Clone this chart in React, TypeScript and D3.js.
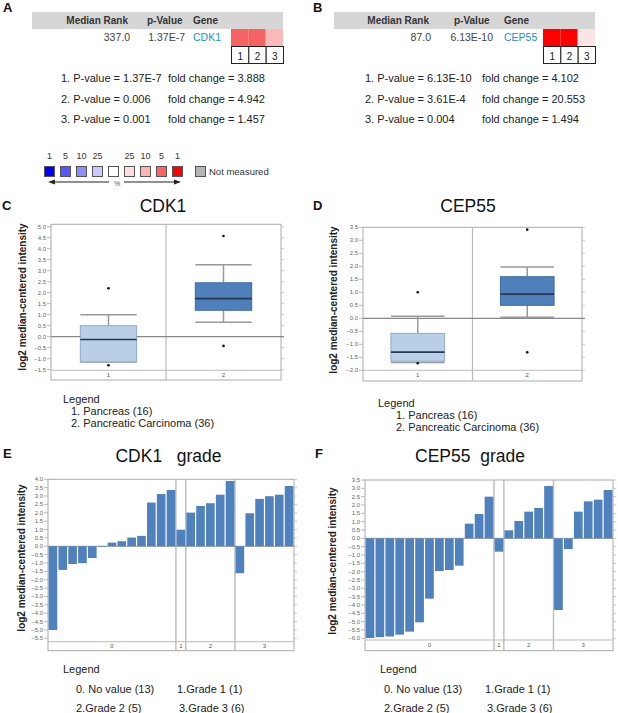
import React from "react";
import * as d3 from "d3";

const FONT = "'Liberation Sans', Arial, Helvetica, sans-serif";

// ---------- Panels A / B (heat map summary) ----------
const heatHeader = ["Median Rank", "p-Value", "Gene"];
const datasetIds = ["1", "2", "3"];
const cdk1Rank = "337.0";
const cdk1PValue = "1.37E-7";
const cep55Rank = "87.0";
const cep55PValue = "6.13E-10";
const cdk1CellColors = ["#f56262", "#f56262", "#fcb9b9"];
const cep55CellColors = ["#ff0000", "#ff0000", "#fde4e4"];
const cdk1Pvals = ["1.37E-7", "0.006", "0.001"];
const cdk1Folds = ["3.888", "4.942", "1.457"];
const cep55Pvals = ["6.13E-10", "3.61E-4", "0.004"];
const cep55Folds = ["4.102", "20.553", "1.494"];

// ---------- colour key ----------
const keyLabels = ["1", "5", "10", "25", "", "25", "10", "5", "1"];
const keyColors = ["#0000ff", "#5656ff", "#8c8cff", "#cacaff", "#ffffff", "#ffdede", "#ffb3b3", "#ff6262", "#ff0000"];

// ---------- Panels C / D (box plots) ----------
const boxCategories = ["1", "2"];
const boxLegend = ["Legend", "1. Pancreas (16)", "2. Pancreatic Carcinoma (36)"];

const cdk1BoxMin = [-1.15, 0.65];
const cdk1BoxQ1 = [-1.15, 1.2];
const cdk1BoxMedian = [-0.13, 1.73];
const cdk1BoxQ3 = [0.5, 2.45];
const cdk1BoxMax = [1.0, 3.27];
const cdk1OutlierGroup = [0, 0, 1, 1];
const cdk1OutlierValue = [2.2, -1.3, 4.58, -0.42];
const cdk1BoxTicks = [-1.5, -1.0, -0.5, 0.0, 0.5, 1.0, 1.5, 2.0, 2.5, 3.0, 3.5, 4.0, 4.5, 5.0];

const cep55BoxMin = [-1.7, 0.04];
const cep55BoxQ1 = [-1.65, 0.5];
const cep55BoxMedian = [-1.3, 0.93];
const cep55BoxQ3 = [-0.58, 1.6];
const cep55BoxMax = [0.08, 1.97];
const cep55OutlierGroup = [0, 0, 1, 1];
const cep55OutlierValue = [1.0, -1.73, 3.41, -1.31];
const cep55BoxTicks = [-2.0, -1.5, -1.0, -0.5, 0.0, 0.5, 1.0, 1.5, 2.0, 2.5, 3.0, 3.5];

// ---------- Panels E / F (grade bars) ----------
const gradeCategories = ["0", "1", "2", "3"];
const gradeLegendLeft = ["0. No value (13)", "2.Grade 2 (5)"];
const gradeLegendRight = ["1.Grade 1 (1)", "3.Grade 3 (6)"];

const cdk1Grade0 = [-5.0, -1.41, -1.06, -1.01, -0.7, -0.04, 0.22, 0.3, 0.52, 0.62, 2.61, 3.12, 3.36];
const cdk1Grade1 = [0.99];
const cdk1Grade2 = [2.01, 2.41, 2.57, 3.08, 3.9];
const cdk1Grade3 = [-1.61, 1.97, 2.83, 2.99, 3.08, 3.6];
const cdk1GradeTicks = [-5.5, -5.0, -4.5, -4.0, -3.5, -3.0, -2.5, -2.0, -1.5, -1.0, -0.5, 0.0, 0.5, 1.0, 1.5, 2.0, 2.5, 3.0, 3.5, 4.0];

const cep55Grade0 = [-5.98, -5.93, -5.89, -5.78, -5.6, -5.04, -3.62, -1.96, -1.9, -1.64, 0.88, 1.46, 2.5];
const cep55Grade1 = [-0.8];
const cep55Grade2 = [0.48, 1.04, 1.6, 1.82, 3.14];
const cep55Grade3 = [-4.3, -0.64, 1.6, 2.22, 2.32, 2.9];
const cep55GradeTicks = [-6.0, -5.5, -5.0, -4.5, -4.0, -3.5, -3.0, -2.5, -2.0, -1.5, -1.0, -0.5, 0.0, 0.5, 1.0, 1.5, 2.0, 2.5, 3.0, 3.5];

const fmt = d3.format(".1f");
const YLABEL = "log2 median-centered intensity";

function Letter({ x, y, t }: any) {
  return (
    <text x={x} y={y} fontSize={13} fontWeight="bold" fill="#111">
      {t}
    </text>
  );
}

function HeatPanel({ L, rank, pval, gene, cellColors, pvals, folds }: any) {
  const cellX = d3.scaleBand().domain(datasetIds).range([L.cellX, L.cellX + 52]);
  const lineY = d3.scalePoint().domain(["0", "1", "2"]).range([82, 123]);
  return (
    <g>
      <rect x={L.hx0} y={12} width={L.hx1 - L.hx0} height={17} fill="#d6d6d6" />
      <text x={L.mrEnd} y={24} fontSize={10} fontWeight="bold" fill="#333" textAnchor="end">{heatHeader[0]}</text>
      <text x={L.pvStart} y={24} fontSize={10} fontWeight="bold" fill="#333">{heatHeader[1]}</text>
      <text x={L.geneStart} y={24} fontSize={10} fontWeight="bold" fill="#333">{heatHeader[2]}</text>
      <text x={L.rankEnd} y={41} fontSize={10.5} fill="#444" textAnchor="end">{rank}</text>
      <text x={L.pvalEnd} y={41} fontSize={10.5} fill="#444" textAnchor="end">{pval}</text>
      <text x={L.geneStart} y={41} fontSize={10.5} fill="#1a8ed8">{gene}</text>
      {datasetIds.map((d, i) => (
        <g key={d}>
          <rect x={cellX(d)} y={29} width={cellX.bandwidth()} height={17} fill={cellColors[i]} />
          <rect x={cellX(d)! + 0.5} y={46.5} width={cellX.bandwidth()} height={17} fill="#fff" stroke="#222" strokeWidth={1} />
          <text x={cellX(d)! + cellX.bandwidth() / 2 + 0.5} y={59.5} fontSize={10} fill="#222" textAnchor="middle">{d}</text>
        </g>
      ))}
      {pvals.map((p: string, i: number) => (
        <g key={i} fontSize={11} fill="#222">
          <text x={L.lineX} y={lineY(String(i))}>{`${i + 1}. P-value = ${p}`}</text>
          <text x={L.foldX} y={lineY(String(i))}>{`fold change = ${folds[i]}`}</text>
        </g>
      ))}
    </g>
  );
}

function ColorKey() {
  const kx = d3.scaleLinear().domain([0, 8]).range([44, 172]);
  return (
    <g>
      {keyColors.map((c, i) => (
        <g key={i}>
          <rect x={kx(i) + 0.5} y={166.5} width={10} height={10} fill={c} stroke="#555" strokeWidth={1} />
          <text x={kx(i) + 5.5} y={159} fontSize={9} fill="#333" textAnchor="middle">{keyLabels[i]}</text>
        </g>
      ))}
      <rect x={195.5} y={166.5} width={10} height={10} fill="#b5b5b5" stroke="#555" strokeWidth={1} />
      <text x={209} y={175} fontSize={9.5} fill="#333">Not measured</text>
      <line x1={53} x2={109} y1={182} y2={182} stroke="#222" strokeWidth={1} />
      <path d="M48,182 L55,179.5 L55,184.5 Z" fill="#222" />
      <text x={114} y={186} fontSize={7} fill="#555">%</text>
      <line x1={124} x2={176} y1={182} y2={182} stroke="#222" strokeWidth={1} />
      <path d="M181,182 L174,179.5 L174,184.5 Z" fill="#222" />
    </g>
  );
}

function YLabel({ x, cy }: any) {
  return (
    <text transform={`translate(${x},${cy}) rotate(-90)`} fontSize={10} fontWeight="bold" fill="#222" textAnchor="middle">
      {YLABEL}
    </text>
  );
}

function BoxPanel(p: any) {
  const y = d3.scaleLinear().domain(p.domain).range([p.ySep, p.yTop]);
  const x = d3.scaleBand().domain(boxCategories).range([p.x0, p.x1]);
  const bw = x.bandwidth() * 0.49;
  const mid = p.x0 + (p.x1 - p.x0) / 2;
  const fills = ["#b9cfe7", "#4f80bc"];
  const strokes = ["#8eabcc", "#3c6aa3"];
  return (
    <g>
      <Letter x={p.letterX} y={210} t={p.letter} />
      <text x={p.titleX} y={212} fontSize={17.5} fill="#111" textAnchor="middle">{p.title}</text>
      <rect x={p.x0} y={p.yTop} width={p.x1 - p.x0} height={p.yBottom - p.yTop} fill="#fff" stroke="#aaa" strokeWidth={1} />
      <line x1={mid} x2={mid} y1={p.yTop} y2={p.yBottom} stroke="#bbb" strokeWidth={1.2} />
      <line x1={p.x0} x2={p.x1} y1={p.ySep} y2={p.ySep} stroke="#bbb" strokeWidth={1} />
      {p.ticks.map((t: number) => (
        <g key={t}>
          <line x1={p.x0 - 4} x2={p.x0} y1={y(t)} y2={y(t)} stroke="#aaa" strokeWidth={0.8} />
          <line x1={p.x1} x2={p.x1 + 3} y1={y(t)} y2={y(t)} stroke="#bbb" strokeWidth={0.8} />
          <text x={p.x0 - 5} y={y(t) + 2} fontSize={6} fill="#666" textAnchor="end">{fmt(t)}</text>
        </g>
      ))}
      <line x1={p.x0} x2={p.x1 + 3} y1={y(0)} y2={y(0)} stroke="#888" strokeWidth={1.2} />
      {boxCategories.map((c, i) => {
        const cx = x(c)! + x.bandwidth() / 2;
        return (
          <g key={c}>
            <line x1={cx} x2={cx} y1={y(p.max[i])} y2={y(p.q3[i])} stroke="#999" strokeWidth={1.5} />
            <line x1={cx} x2={cx} y1={y(p.q1[i])} y2={y(p.min[i])} stroke="#999" strokeWidth={1.5} />
            <line x1={cx - bw / 2} x2={cx + bw / 2} y1={y(p.max[i])} y2={y(p.max[i])} stroke="#999" strokeWidth={1.5} />
            <line x1={cx - bw / 2} x2={cx + bw / 2} y1={y(p.min[i])} y2={y(p.min[i])} stroke="#999" strokeWidth={1.5} />
            <rect x={cx - bw / 2} y={y(p.q3[i])} width={bw} height={y(p.q1[i]) - y(p.q3[i])} fill={fills[i]} stroke={strokes[i]} strokeWidth={1} />
            <line x1={cx - bw / 2} x2={cx + bw / 2} y1={y(p.median[i])} y2={y(p.median[i])} stroke="#26384d" strokeWidth={1.6} />
            <text x={cx} y={y.range()[0] + 7} fontSize={6} fill="#555" textAnchor="middle">{c}</text>
          </g>
        );
      })}
      {p.outVal.map((v: number, k: number) => (
        <circle key={k} cx={x(boxCategories[p.outGrp[k]])! + x.bandwidth() / 2} cy={y(v)} r={1.3} fill="#111" />
      ))}
      <YLabel x={p.ylabX} cy={p.ylabY} />
      {boxLegend.map((t, i) => (
        <text key={i} x={i === 0 ? p.legX : p.legX + p.legIndent} y={p.legY + i * 12} fontSize={11} fill="#222">{t}</text>
      ))}
    </g>
  );
}

function BarPanel(p: any) {
  const values: number[] = p.groups.flat();
  const idx = values.map((_: number, i: number) => String(i));
  const x = d3.scaleBand().domain(idx).range([p.x0, p.x1]);
  const y = d3.scaleLinear().domain(p.domain).range([p.ySep, p.yTop]);
  let start = 0;
  const info = p.groups.map((g: number[], gi: number) => {
    const s = start;
    start += g.length;
    return { s, e: start, label: gradeCategories[gi] };
  });
  const xAt = (i: number) => (i >= values.length ? p.x1 : x(String(i))!);
  return (
    <g>
      <Letter x={p.letterX} y={458} t={p.letter} />
      <text x={p.titleX} y={462} fontSize={17.5} fill="#111" textAnchor="middle" style={{ whiteSpace: "pre" }}>{p.title}</text>
      <rect x={p.x0} y={p.yTop} width={p.x1 - p.x0} height={p.yBottom - p.yTop} fill="#fff" stroke="#aaa" strokeWidth={1} />
      <line x1={p.x0} x2={p.x1} y1={p.ySep} y2={p.ySep} stroke="#bbb" strokeWidth={1} />
      {p.ticks.map((t: number) => (
        <g key={t}>
          <line x1={p.x0 - 4} x2={p.x0} y1={y(t)} y2={y(t)} stroke="#aaa" strokeWidth={0.8} />
          <line x1={p.x1} x2={p.x1 + 3} y1={y(t)} y2={y(t)} stroke="#bbb" strokeWidth={0.8} />
          <text x={p.x0 - 5} y={y(t) + 2} fontSize={6} fill="#666" textAnchor="end">{fmt(t)}</text>
        </g>
      ))}
      {info.slice(0, -1).map((g: any) => (
        <line key={g.label} x1={xAt(g.e)} x2={xAt(g.e)} y1={p.yTop} y2={p.yBottom} stroke="#bbb" strokeWidth={1.4} />
      ))}
      <line x1={p.x0} x2={p.x1} y1={y(0)} y2={y(0)} stroke="#999" strokeWidth={1} />
      {values.map((v, i) => (
        <rect
          key={i}
          x={x(String(i))! + 0.6}
          y={Math.min(y(v), y(0))}
          width={x.bandwidth() - 1.2}
          height={Math.abs(y(v) - y(0))}
          fill="#4f81bd"
        />
      ))}
      {info.map((g: any) => (
        <text key={g.label} x={(xAt(g.s) + xAt(g.e)) / 2} y={p.ySep + 6.5} fontSize={6} fill="#555" textAnchor="middle">{g.label}</text>
      ))}
      <YLabel x={p.ylabX} cy={p.ylabY} />
      <text x={p.legX} y={672.5} fontSize={11} fill="#222">Legend</text>
      {gradeLegendLeft.map((t, i) => (
        <text key={t} x={p.legX1} y={692.5 + i * 19} fontSize={11} fill="#222">{t}</text>
      ))}
      {gradeLegendRight.map((t, i) => (
        <text key={t} x={p.legX2 + i * 2} y={692.5 + i * 19} fontSize={11} fill="#222">{t}</text>
      ))}
    </g>
  );
}

export default function App() {
  return (
    <svg
      width={618}
      height={713}
      viewBox="0 0 618 713"
      fontFamily={FONT}
      style={{ position: "absolute", left: 0, top: 0, background: "#fff" }}
    >
      <rect width={618} height={713} fill="#fff" />
      <Letter x={3} y={12} t="A" />
      <Letter x={313} y={12} t="B" />
      <HeatPanel
        L={{ hx0: 32, hx1: 283, mrEnd: 128, pvStart: 147, geneStart: 193, rankEnd: 130, pvalEnd: 185, cellX: 231, lineX: 61, foldX: 168 }}
        rank={cdk1Rank}
        pval={cdk1PValue}
        gene="CDK1"
        cellColors={cdk1CellColors}
        pvals={cdk1Pvals}
        folds={cdk1Folds}
      />
      <HeatPanel
        L={{ hx0: 334, hx1: 595, mrEnd: 429, pvStart: 454, geneStart: 504, rankEnd: 431, pvalEnd: 493, cellX: 543, lineX: 365, foldX: 482 }}
        rank={cep55Rank}
        pval={cep55PValue}
        gene="CEP55"
        cellColors={cep55CellColors}
        pvals={cep55Pvals}
        folds={cep55Folds}
      />
      <ColorKey />
      <BoxPanel
        letter="C" letterX={2} title="CDK1" titleX={163}
        x0={51} x1={281} yTop={224.3} ySep={370.3} yBottom={380}
        domain={[-1.53, 5.11]} ticks={cdk1BoxTicks}
        min={cdk1BoxMin} q1={cdk1BoxQ1} median={cdk1BoxMedian} q3={cdk1BoxQ3} max={cdk1BoxMax}
        outGrp={cdk1OutlierGroup} outVal={cdk1OutlierValue}
        ylabX={26} ylabY={297}
        legX={63} legIndent={8} legY={403.3}
      />
      <BoxPanel
        letter="D" letterX={313} title="CEP55" titleX={468}
        x0={363} x1={582} yTop={227.3} ySep={370.3} yBottom={381}
        domain={[-2.0, 3.5]} ticks={cep55BoxTicks}
        min={cep55BoxMin} q1={cep55BoxQ1} median={cep55BoxMedian} q3={cep55BoxQ3} max={cep55BoxMax}
        outGrp={cep55OutlierGroup} outVal={cep55OutlierValue}
        ylabX={337} ylabY={300}
        legX={378} legIndent={18} legY={406.5}
      />
      <BarPanel
        letter="E" letterX={3} title={"CDK1   grade"} titleX={168.5}
        x0={48} x1={294} yTop={479.3} ySep={641.7} yBottom={650.7}
        domain={[-5.7, 4.0]} ticks={cdk1GradeTicks}
        groups={[cdk1Grade0, cdk1Grade1, cdk1Grade2, cdk1Grade3]}
        ylabX={24.5} ylabY={558}
        legX={63} legX1={76} legX2={177}
      />
      <BarPanel
        letter="F" letterX={315} title={"CEP55  grade"} titleX={470}
        x0={365} x1={613} yTop={480} ySep={640} yBottom={650.7}
        domain={[-6.1, 3.5]} ticks={cep55GradeTicks}
        groups={[cep55Grade0, cep55Grade1, cep55Grade2, cep55Grade3]}
        ylabX={336} ylabY={561}
        legX={380} legX1={384} legX2={485}
      />
    </svg>
  );
}
